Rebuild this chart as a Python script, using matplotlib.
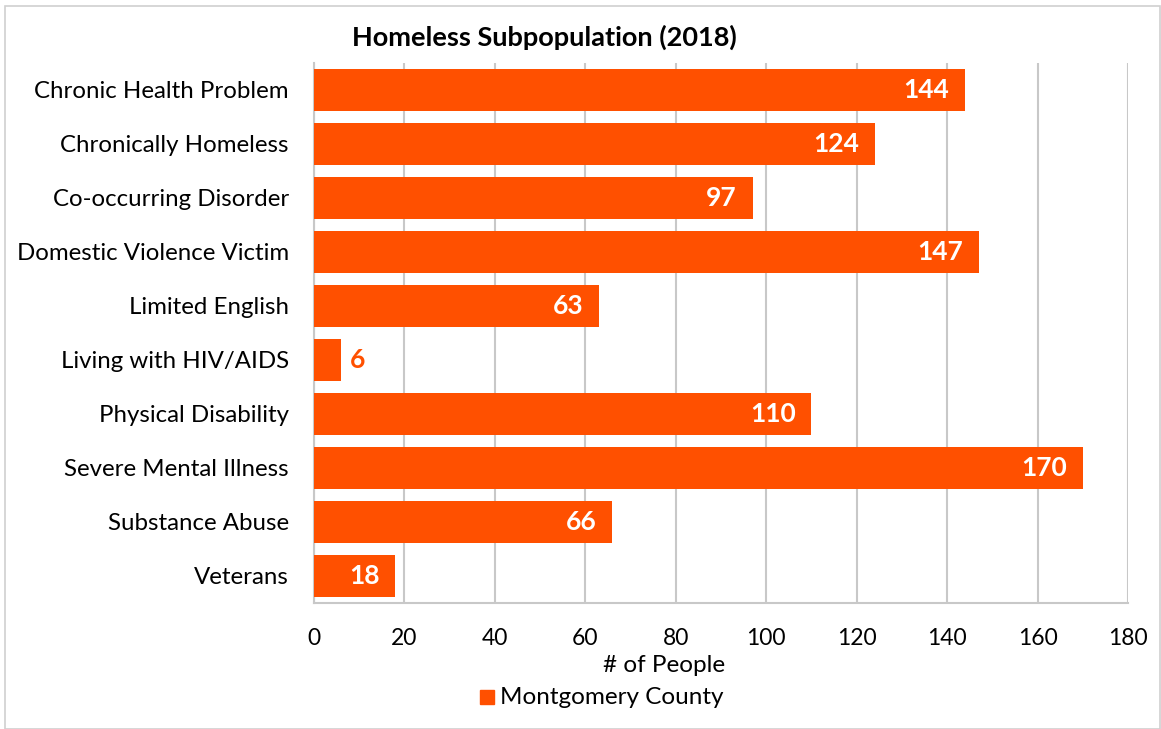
import matplotlib.pyplot as plt
from matplotlib.patches import Rectangle

plt.rcParams['font.family'] = ['Lato', 'DejaVu Sans']

categories = ['Chronic Health Problem', 'Chronically Homeless', 'Co-occurring Disorder',
              'Domestic Violence Victim', 'Limited English', 'Living with HIV/AIDS',
              'Physical Disability', 'Severe Mental Illness', 'Substance Abuse', 'Veterans']
values = [144, 124, 97, 147, 63, 6, 110, 170, 66, 18]
xticks = [0, 20, 40, 60, 80, 100, 120, 140, 160, 180]

bar_color = '#FF5000'
grid_color = '#C8C8C8'

fig = plt.figure(figsize=(11.61, 7.29), dpi=100)
ax = fig.add_axes([314 / 1161, 1 - 603 / 729, (1128 - 314) / 1161, 540 / 729])

ypos = list(range(len(categories)))
ax.barh(ypos, values, height=0.78, color=bar_color, zorder=3)
ax.set_ylim(len(categories) - 0.5, -0.5)
ax.set_xlim(0, 180)
ax.set_yticks(ypos)
ax.set_yticklabels(categories, fontsize=17.3)
ax.set_xticks(xticks)
ax.set_xticklabels([str(t) for t in xticks], fontsize=16.5)
ax.tick_params(axis='y', length=0, pad=18)
ax.tick_params(axis='x', length=0, pad=18)
ax.grid(axis='x', color=grid_color, linewidth=1.5, zorder=0)
for s in ['top', 'right']:
    ax.spines[s].set_visible(False)
for s in ['left', 'bottom']:
    ax.spines[s].set_color(grid_color)
    ax.spines[s].set_linewidth(1.5)

for y, v in zip(ypos, values):
    if v < 15:
        ax.text(v + 2, y, str(v), ha='left', va='center', color=bar_color,
                fontsize=19, fontweight='bold', zorder=4)
    else:
        ax.text(v - 3.5, y, str(v), ha='right', va='center', color='white',
                fontsize=19, fontweight='bold', zorder=4)

fig.text(544 / 1161, 1 - 37 / 729, 'Homeless Subpopulation (2018)', ha='center', va='center',
         fontsize=19.5, fontweight='bold')
fig.text(664 / 1161, 1 - 665 / 729, '# of People', ha='center', va='center', fontsize=17.5)
fig.patches.append(Rectangle((480 / 1161, 1 - 704 / 729), 14 / 1161, 14 / 729,
                             transform=fig.transFigure, color=bar_color))
fig.text(500 / 1161, 1 - 698 / 729, 'Montgomery County', ha='left', va='center', fontsize=17.5)

fig.patches.append(Rectangle((5 / 1161, 0), 1 - 6 / 1161, 1 - 6 / 729, transform=fig.transFigure,
                             fill=False, edgecolor='#D0D0D0', linewidth=1.2))

fig.savefig('out.png', dpi=100)
